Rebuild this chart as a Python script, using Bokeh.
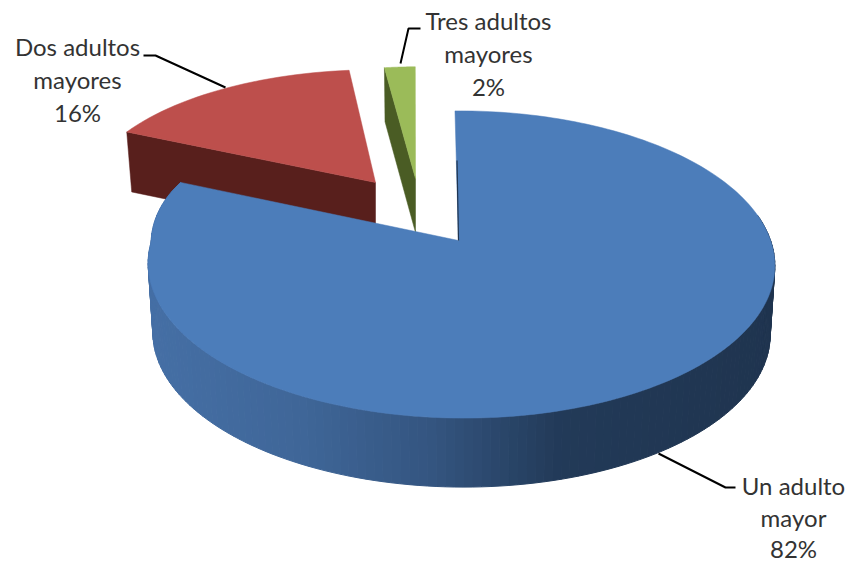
import numpy as np
from bokeh.plotting import figure
from bokeh.embed import file_html
from bokeh.resources import INLINE
from bokeh.core.properties import value

categories = ["Un adulto mayor", "Dos adultos mayores", "Tres adultos mayores"]
shares = [82, 16, 2]
label_lines = [["Un adulto", "mayor"], ["Dos adultos", "mayores"], ["Tres adultos", "mayores"]]

TOP = ["#4c7dba", "#bd4f4c", "#9bbb59"]
SIDE = [None, "#581f1c", "#4a5c24"]

p = figure(width=851, height=563, x_range=(0, 851), y_range=(563, 0),
           output_backend="svg", toolbar_location=None, min_border=0,
           outline_line_color=None, background_fill_color="white")
p.axis.visible = False
p.grid.visible = False

# Projection of the unit disc on to the page
src = [(0, 0), (0, 1), (-.905, .426), (0, -1), (1, 0), (-1, 0)]
dst = [(458, 240), (455, 111), (192, 183), (460, 419), (770, 240), (153, 240)]
A, b = [], []
for (u, v), (X, Y) in zip(src, dst):
    A.append([u, v, 1, 0, 0, 0, -X * u, -X * v]); b.append(X)
    A.append([0, 0, 0, u, v, 1, -Y * u, -Y * v]); b.append(Y)
h = np.linalg.lstsq(np.array(A, float), np.array(b, float), rcond=None)[0]


def proj(t, warp=0.0):
    """t in degrees, clockwise from the top of the disc"""
    r = np.radians(t)
    u, v = np.sin(r), np.cos(r)
    w = h[6] * u + h[7] * v + 1
    x = (h[0] * u + h[1] * v + h[2]) / w
    y = (h[3] * u + h[4] * v + h[5]) / w
    return x - warp * np.clip(-u, 0, None) * np.clip(v, 0, None), y


angles = np.cumsum([0] + shares) * 3.6
CX = 462.0
DEPTH = 69.0
WARP = 38

# ---- exploded small slices, behind the big one
apexes = {1: (375, 182), 2: (415, 178)}
rim_shift = {1: (0, 0), 2: (3, 1)}
end_fix = {1: 2.0, 2: 0.0}
SX, SY = 0.945, 0.87
SDEPTH = [0, 60, 54]
SINK = 0.98
for i in (1, 2):
    ax, ay = apexes[i]
    t = np.linspace(angles[i], angles[i + 1] + end_fix[i], 30)
    rx, ry = proj(t)
    sx = SX if i == 1 else 0.915
    rx = ax + rim_shift[i][0] + (rx - 458) * sx
    ry = ay + rim_shift[i][1] + (ry - 240) * SY
    d = SDEPTH[i]
    fx = [rx[0], ax, ax, ax + (rx[0] - ax) * SINK]
    fy = [ry[0], ay, ay + d, ry[0] + d]
    p.patch(fx, fy, fill_color=SIDE[i], line_color=SIDE[i], line_width=0.5)
    p.patch(list(rx) + [ax], list(ry) + [ay], fill_color=TOP[i], line_color=TOP[i], line_width=0.5)

# ---- big slice: rim with shading, then top face
stops_x = [148, 300, 430, 560, 776]
stops_c = np.array([[0x45, 0x6f, 0xa5], [0x3f, 0x66, 0x98], [0x34, 0x55, 0x80], [0x22, 0x3a, 0x58], [0x1f, 0x34, 0x4f]], float)
t = np.linspace(angles[0] + 80, angles[1], 150)
x, y = proj(t, WARP)
bx = CX + (x - CX) * 0.985
by = y + DEPTH
xs, ys, cols = [], [], []
for k in range(len(t) - 1):
    xs.append([x[k], x[k + 1], bx[k + 1], bx[k]])
    ys.append([y[k], y[k + 1], by[k + 1], by[k]])
    c = [np.interp((x[k] + x[k + 1]) / 2, stops_x, stops_c[:, j]) for j in range(3)]
    cols.append("#%02x%02x%02x" % tuple(int(round(q)) for q in c))
p.patches(xs, ys, fill_color=cols, line_color=cols, line_width=1)

t = np.linspace(angles[0], angles[1], 240)
x, y = proj(t, WARP)
apex = (458, 240)
p.patch(list(x) + [apex[0]], list(y) + [apex[1]], fill_color=TOP[0], line_color=TOP[0], line_width=0.5)
p.line([apex[0] - 1.5, apex[0]], [160, apex[1]], line_color="#1f344f", line_width=1.2)

# ---- leaders
leaders = [([735, 725, 658], [487, 487, 453]),
           ([143, 155, 225], [55, 55, 87]),
           ([420, 408, 400], [28, 28, 63])]
for lx, ly in leaders:
    p.line(lx, ly, line_color="black", line_width=2)

# ---- labels
anchors = [(793, 485), (77, 46), (488, 20)]
spacing = [31.5, 33, 33]
for lines, share, (tx, ty), sp in zip(label_lines, shares, anchors, spacing):
    for n, s in enumerate(lines + [f"{share}%"]):
        p.text([tx], [ty + n * sp], text=[s], text_font=value("Lato"), text_font_size="24px",
               text_color="#333333", text_align="center", text_baseline="middle")

open("out.html", "w").write(file_html(p, INLINE))
